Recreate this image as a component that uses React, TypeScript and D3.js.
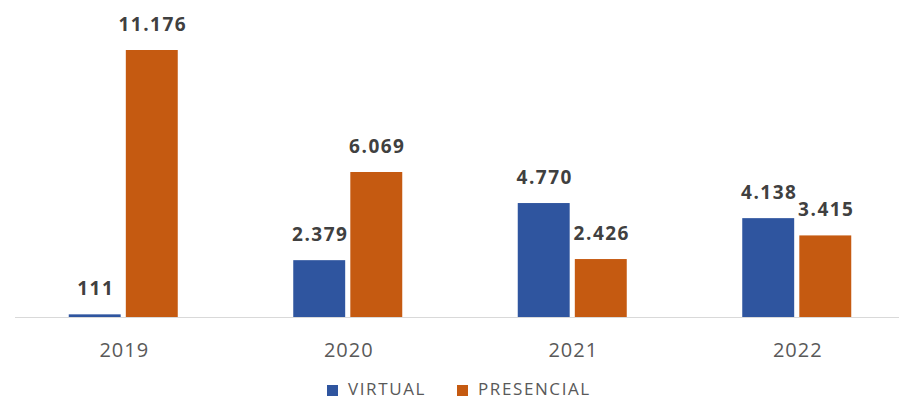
import React from "react";
import * as d3 from "d3";

const years = ["2019", "2020", "2021", "2022"];
const virtual = [111, 2379, 4770, 4138];
const presencial = [11176, 6069, 2426, 3415];
const seriesNames = ["VIRTUAL", "PRESENCIAL"];
const colors = ["#2F559F", "#C55A11"];

const W = 899;
const H = 401;
const baseY = 317;

export default function App() {
  const x = d3.scaleBand<string>().domain(years).range([11, 909]).paddingInner(0).paddingOuter(0);
  const inner = d3.scaleBand<number>().domain([0, 1]).range([0, 109]).paddingInner(0.09);
  const y = d3.scaleLinear().domain([0, 11176]).range([baseY, 50]);
  const fmt = (v: number) => d3.format(",")(v).replace(/,/g, ".");
  const series = [virtual, presencial];
  const font = "'Open Sans', Lato, sans-serif";

  return (
    <svg width={W} height={H} style={{ position: "absolute", left: 0, top: 0 }} fontFamily={font}>
      <rect width={W} height={H} fill="#fff" />
      <line x1={15} x2={W} y1={baseY + 0.5} y2={baseY + 0.5} stroke="#D9D9D9" strokeWidth={1} />
      {years.map((yr, i) => {
        const cx = x(yr)! + x.bandwidth() / 2;
        const g0 = cx - 109 / 2;
        return (
          <g key={yr}>
            {series.map((s, k) => {
              const bx = g0 + inner(k)!;
              const bw = inner.bandwidth();
              const top = y(s[i]);
              return (
                <g key={k}>
                  <rect x={bx} y={top} width={bw} height={baseY - top} fill={colors[k]} />
                  <text
                    x={bx + bw / 2 + 1}
                    y={top - 19}
                    textAnchor="middle"
                    fontSize={19}
                    fontWeight="bold"
                    letterSpacing={1.5}
                    fill="#404040"
                  >
                    {fmt(s[i])}
                  </text>
                </g>
              );
            })}
            <text x={cx + 1} y={357} textAnchor="middle" fontSize={20} letterSpacing={1} fill="#595959">
              {yr}
            </text>
          </g>
        );
      })}
      <g fontSize={17} letterSpacing={1.6} fill="#595959">
        <rect x={327} y={385} width={11} height={11} fill={colors[0]} />
        <text x={348} y={395}>{seriesNames[0]}</text>
        <rect x={457} y={385} width={11} height={11} fill={colors[1]} />
        <text x={478} y={395}>{seriesNames[1]}</text>
      </g>
    </svg>
  );
}
